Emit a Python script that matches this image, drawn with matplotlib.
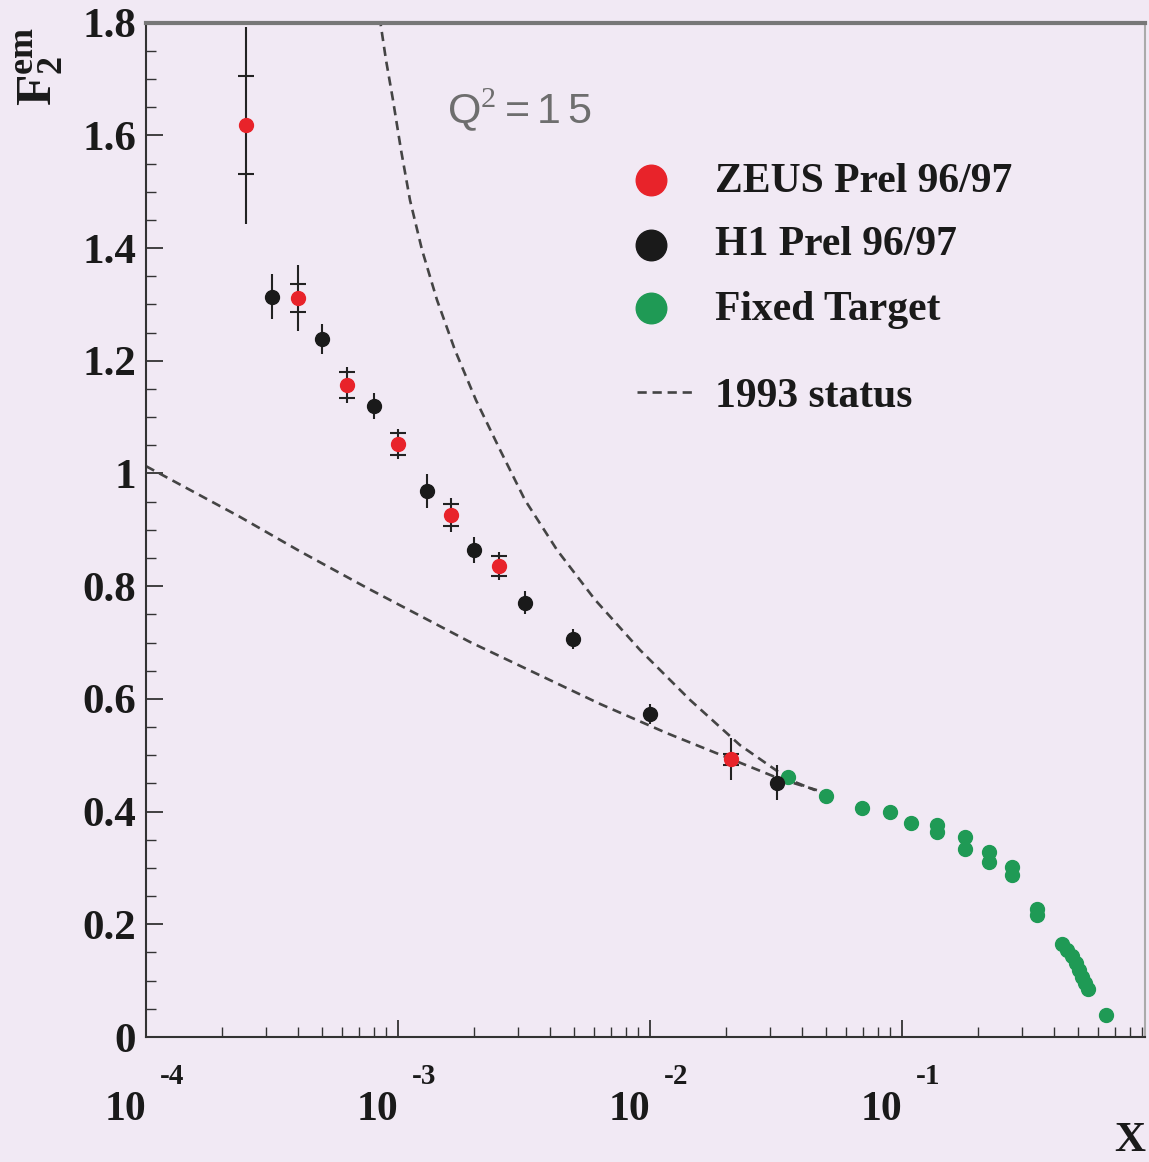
import numpy as np
import matplotlib
matplotlib.use("Agg")
import matplotlib.pyplot as plt
from matplotlib.ticker import LogLocator, MultipleLocator, NullFormatter, FormatStrFormatter

plt.rcParams['mathtext.fontset'] = 'custom'
plt.rcParams['mathtext.rm'] = 'Liberation Serif'
plt.rcParams['mathtext.bf'] = 'Liberation Serif:bold'

# ZEUS Prel 96/97: x, F2, stat error, total error
zeus_x = [2.5e-4, 4.0e-4, 6.3e-4, 1.0e-3, 1.62e-3, 2.52e-3, 2.09e-2]
zeus_y = [1.618, 1.311, 1.157, 1.052, 0.926, 0.836, 0.493]
zeus_stat = [0.087, 0.025, 0.023, 0.019, 0.020, 0.018, 0.010]
zeus_tot = [0.175, 0.059, 0.032, 0.027, 0.030, 0.025, 0.037]

# H1 Prel 96/97
h1_x = [3.17e-4, 5.0e-4, 8.0e-4, 1.3e-3, 2.0e-3, 3.19e-3, 4.97e-3, 1.0e-2, 3.18e-2]
h1_y = [1.314, 1.239, 1.119, 0.969, 0.864, 0.771, 0.706, 0.573, 0.451]
h1_err = [0.040, 0.027, 0.023, 0.030, 0.023, 0.020, 0.018, 0.018, 0.031]

# Fixed target
ft_x = [0.0354, 0.0499, 0.0697, 0.0895, 0.109, 0.138, 0.138, 0.178, 0.178,
        0.222, 0.222, 0.272, 0.272, 0.344, 0.344, 0.431, 0.452, 0.473, 0.489,
        0.502, 0.516, 0.530, 0.548, 0.646]
ft_y = [0.461, 0.428, 0.406, 0.399, 0.379, 0.376, 0.364, 0.355, 0.333,
        0.329, 0.311, 0.301, 0.288, 0.228, 0.217, 0.165, 0.154, 0.144, 0.131,
        0.119, 0.106, 0.096, 0.085, 0.039]

# 1993 status curves
steep_x = [8.45e-4, 8.96e-4, 9.55e-4, 1.028e-3, 1.116e-3, 1.245e-3, 1.428e-3, 1.683e-3,
           2.04e-3, 2.54e-3, 3.19e-3, 4.28e-3, 6.05e-3, 9.12e-3, 1.443e-2, 2.275e-2,
           3.597e-2, 4.519e-2]
steep_y = [1.81, 1.734, 1.663, 1.574, 1.485, 1.397, 1.308, 1.219,
           1.130, 1.042, 0.953, 0.864, 0.776, 0.687, 0.598, 0.518,
           0.456, 0.438]
flat_x = [1.0e-4, 2.36e-4, 4.08e-4, 7.53e-4, 1.93e-3, 6.34e-3, 1.17e-2, 2.13e-2,
          3.28e-2, 4.6e-2]
flat_y = [1.013, 0.923, 0.862, 0.797, 0.701, 0.591, 0.539, 0.492,
          0.458, 0.438]

bg = '#f1e9f4'
red = '#e8232a'
black = '#1a1a1a'
green = '#1f9a55'
serif = 'Liberation Serif'

fig = plt.figure(figsize=(11.49, 11.62), dpi=100, facecolor=bg)
ax = fig.add_axes([146 / 1149, 1 - 1037 / 1162, 999 / 1149, 1014.3 / 1162])
ax.set_facecolor(bg)
ax.set_xscale('log')
ax.set_xlim(1e-4, 0.921)
ax.set_ylim(0, 1.8)

dash = dict(color='#444444', lw=1.9, ls=(0, (3.5, 2.2)))
ax.plot(steep_x, steep_y, **dash)
ax.plot(flat_x, flat_y, **dash)

# error bars
ax.errorbar(zeus_x, zeus_y, yerr=zeus_tot, fmt='none', ecolor='#222222', elinewidth=1.5)
ax.errorbar(zeus_x, zeus_y, yerr=zeus_stat, fmt='none', ecolor='#222222',
            elinewidth=0, capsize=6, capthick=1.5)
ax.errorbar(h1_x, h1_y, yerr=h1_err, fmt='none', ecolor='#222222', elinewidth=1.5)

ms = 10
ax.plot(ft_x, ft_y, 'o', color=green, ms=ms, mec=green, zorder=4)
ax.plot(h1_x, h1_y, 'o', color=black, ms=ms, mec=black, zorder=5)
ax.plot(zeus_x, zeus_y, 'o', color=red, ms=ms, mec=red, zorder=5)

# spines and ticks
for s in ['left', 'bottom', 'right']:
    ax.spines[s].set_color('#333333')
    ax.spines[s].set_linewidth(1.5)
ax.spines['right'].set_color('#aaaaaa')
ax.spines['top'].set_color('#777777')
ax.spines['top'].set_linewidth(3)

ax.xaxis.set_major_locator(LogLocator(base=10, numticks=10))
ax.xaxis.set_minor_locator(LogLocator(base=10, subs=np.arange(2, 10), numticks=20))
ax.xaxis.set_major_formatter(NullFormatter())
ax.xaxis.set_minor_formatter(NullFormatter())
ax.yaxis.set_major_locator(MultipleLocator(0.2))
ax.yaxis.set_minor_locator(MultipleLocator(0.05))
ax.yaxis.set_major_formatter(FormatStrFormatter('%g'))
ax.tick_params(which='both', direction='in', top=False, right=False, color='#333333')
ax.tick_params(which='major', length=12, width=1.3)
ax.tick_params(which='minor', length=7, width=1.0)
ax.tick_params(axis='y', which='major', pad=7)
for lab in ax.get_yticklabels():
    lab.set_fontfamily(serif)
    lab.set_fontweight('bold')
    lab.set_fontsize(31)
    lab.set_color('#1a1a1a')

# x tick labels in ROOT style: "10" and exponent
xtr = ax.get_xaxis_transform()
for e in [-4, -3, -2, -1]:
    ax.text(10.0 ** e, -0.082, '10', transform=xtr, ha='right', va='baseline',
            family=serif, weight='bold', fontsize=30, color='#1a1a1a')
    ax.text(10.0 ** e * 1.13, -0.046, str(e), transform=xtr, ha='left', va='baseline',
            family=serif, weight='bold', fontsize=21, color='#1a1a1a')

fig.text(1145 / 1149, 1 - 1160 / 1162, 'X', ha='right', va='bottom',
         family=serif, weight='bold', fontsize=31, color='#1a1a1a')
fig.text(40 / 1149, 1 - 66 / 1162, r'$\mathbf{F_2^{em}}$', rotation=90,
         ha='center', va='center', fontsize=37, color='#1a1a1a')

ax.text(0.301, 0.914, r'Q$^{2}$$\,$=$\,$1$\,$5', transform=ax.transAxes, ha='left',
        va='center', family='Liberation Sans', fontsize=31, color='#6e6e6e')

# legend
leg_rows = [(0.845, 0.833, red, 'ZEUS Prel 96/97'),
            (0.781, 0.771, black, 'H1 Prel 96/97'),
            (0.719, 0.707, green, 'Fixed Target')]
for ym, yt, c, lbl in leg_rows:
    ax.plot([0.5055], [ym], 'o', color=c, ms=22, transform=ax.transAxes, clip_on=False)
    ax.text(0.5696, yt, lbl, transform=ax.transAxes, ha='left', va='baseline',
            family=serif, weight='bold', fontsize=30, color='#1a1a1a')
ax.plot([0.4915, 0.5475], [0.636, 0.636], transform=ax.transAxes, **dash)
ax.text(0.5696, 0.621, '1993 status', transform=ax.transAxes, ha='left', va='baseline',
        family=serif, weight='bold', fontsize=30, color='#1a1a1a')

fig.savefig('out.png', dpi=100, facecolor=bg)
